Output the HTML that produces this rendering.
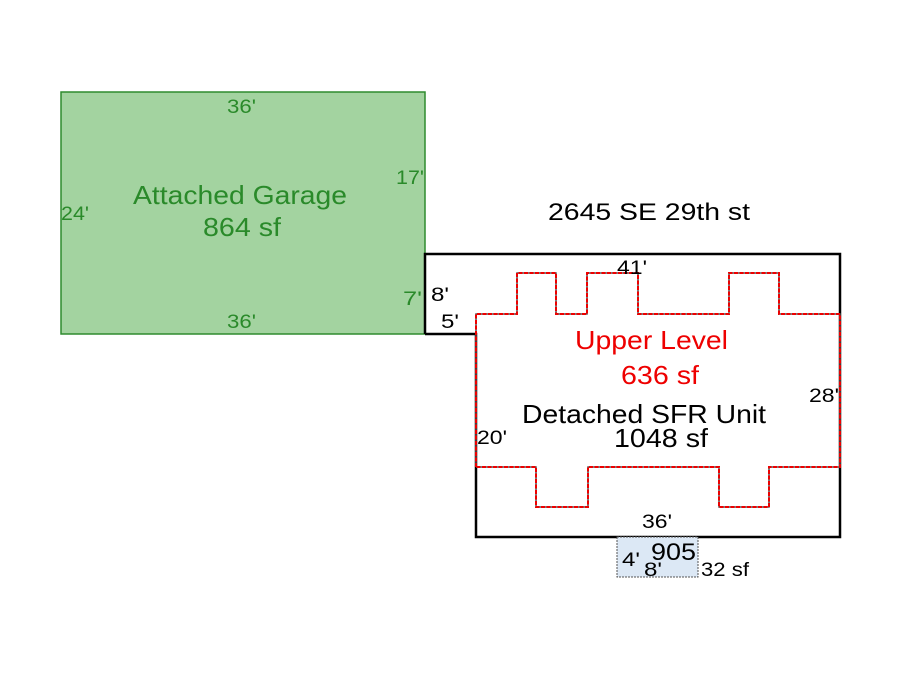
<!DOCTYPE html>
<html><head><style>body{margin:0;background:#fff}svg{display:block}text{font-family:"Liberation Sans",sans-serif}</style></head><body>
<svg width="900" height="675" viewBox="0 0 900 675">
<rect x="61" y="92" width="364" height="242" fill="#a3d3a0" stroke="#2e8b2e" stroke-width="1.5"/>
<polyline points="425,334 425,254 840,254 840,537 476,537 476,334 425,334" fill="none" stroke="#000" stroke-width="2.5"/>
<polyline points="476,467 476,314 517,314 517,273 556,273 556,314 587,314 587,273 638,273 638,314 729,314 729,273 779,273 779,314 840,314 840,467 769,467 769,507 719,507 719,467 588,467 588,507 536,507 536,467 476,467" fill="none" stroke="#555" stroke-width="1.5"/>
<polyline points="476,467 476,314 517,314 517,273 556,273 556,314 587,314 587,273 638,273 638,314 729,314 729,273 779,273 779,314 840,314 840,467 769,467 769,507 719,507 719,467 588,467 588,507 536,507 536,467 476,467" fill="none" stroke="#e00" stroke-width="2" stroke-dasharray="4,1.5"/>
<rect x="617" y="537" width="81" height="40" fill="#dce8f5" stroke="#555" stroke-width="1" stroke-dasharray="2,1"/>
<g fill="#2a8a2a" font-size="19">
<text x="227" y="113" textLength="29" lengthAdjust="spacingAndGlyphs">36'</text>
<text x="227" y="328" textLength="29" lengthAdjust="spacingAndGlyphs">36'</text>
<text x="61" y="220" textLength="28" lengthAdjust="spacingAndGlyphs">24'</text>
<text x="396" y="184" textLength="28" lengthAdjust="spacingAndGlyphs">17'</text>
<text x="403" y="305" textLength="19" lengthAdjust="spacingAndGlyphs">7'</text>
<text x="133" y="204" font-size="26" textLength="214" lengthAdjust="spacingAndGlyphs">Attached Garage</text>
<text x="203" y="236" font-size="26" textLength="78" lengthAdjust="spacingAndGlyphs">864 sf</text>
</g>
<g fill="#000" font-size="19">
<text x="548" y="220" font-size="24" textLength="202" lengthAdjust="spacingAndGlyphs">2645 SE 29th st</text>
<text x="617" y="274" textLength="30" lengthAdjust="spacingAndGlyphs">41'</text>
<text x="431" y="301" textLength="18" lengthAdjust="spacingAndGlyphs">8'</text>
<text x="441" y="328" textLength="18" lengthAdjust="spacingAndGlyphs">5'</text>
<text x="809" y="402" textLength="30" lengthAdjust="spacingAndGlyphs">28'</text>
<text x="477" y="444" textLength="30" lengthAdjust="spacingAndGlyphs">20'</text>
<text x="642" y="528" textLength="30" lengthAdjust="spacingAndGlyphs">36'</text>
<text x="522" y="423" font-size="26" textLength="244" lengthAdjust="spacingAndGlyphs">Detached SFR Unit</text>
<text x="614" y="447" font-size="26" textLength="94" lengthAdjust="spacingAndGlyphs">1048 sf</text>
<text x="622" y="566" textLength="18" lengthAdjust="spacingAndGlyphs">4'</text>
<text x="651" y="560" font-size="24" textLength="45" lengthAdjust="spacingAndGlyphs">905</text>
<text x="644" y="576" textLength="18" lengthAdjust="spacingAndGlyphs">8'</text>
<text x="701" y="576" textLength="48" lengthAdjust="spacingAndGlyphs">32 sf</text>
</g>
<text x="575" y="349" fill="#e00" font-size="26" textLength="153" lengthAdjust="spacingAndGlyphs">Upper Level</text>
<text x="621" y="384" fill="#e00" font-size="26" textLength="78" lengthAdjust="spacingAndGlyphs">636 sf</text>
</svg>
</body></html>
